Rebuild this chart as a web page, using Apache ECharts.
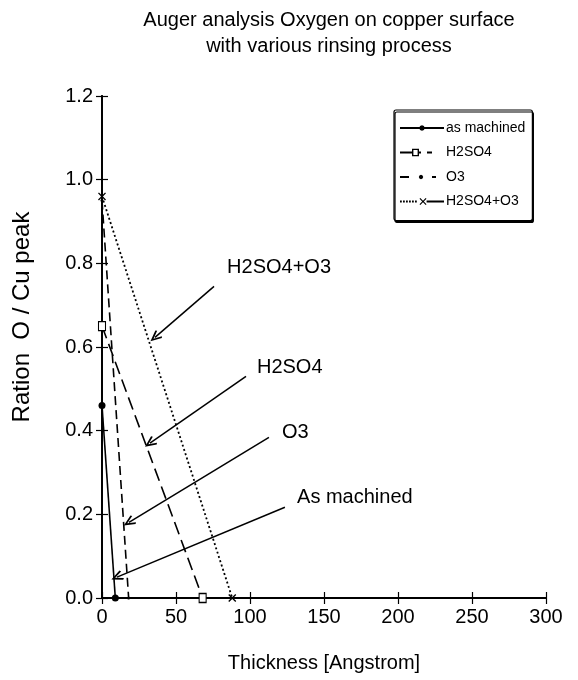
<!DOCTYPE html>
<html>
<head>
<meta charset="utf-8">
<script src="https://cdn.jsdelivr.net/npm/echarts@6/dist/echarts.min.js"></script>
<style>html,body{margin:0;padding:0;background:#fff;}#c{width:578px;height:680px;}</style>
</head>
<body>
<div id="c"></div>
<script>
// ---- data ----
const seriesNames = ['as machined', 'H2SO4', 'O3', 'H2SO4+O3'];
const asMachinedX = [0, 9];
const asMachinedY = [0.46, 0];
const h2so4X = [0, 68];
const h2so4Y = [0.65, 0];
const o3X = [0, 18];
const o3Y = [0.95, 0];
const h2so4o3X = [0, 88];
const h2so4o3Y = [0.96, 0];
const xTicks = [0, 50, 100, 150, 200, 250, 300];
const yTicks = [0.0, 0.2, 0.4, 0.6, 0.8, 1.0, 1.2];
// annotations (data coordinates)
const annotText = ['H2SO4+O3', 'H2SO4', 'O3', 'As machined'];
const annotLabelX = [84.5, 104.7, 121.6, 131.8];
const annotLabelY = [0.79, 0.551, 0.396, 0.241];
const arrowTailX = [75.7, 97.3, 112.8, 123.6];
const arrowTailY = [0.745, 0.53, 0.384, 0.217];
const arrowTipX = [35.8, 32.4, 18.2, 10.1];
const arrowTipY = [0.623, 0.37, 0.181, 0.05];

const zip = (xs, ys) => xs.map((x, i) => [x, ys[i]]);
const FONT = 'Liberation Sans';
const xMarker = 'path://M0,1.2L1.2,0L5,3.8L8.8,0L10,1.2L6.2,5L10,8.8L8.8,10L5,6.2L1.2,10L0,8.8L3.8,5Z';
const chevron = 'path://M5,0L10,9L8.6,10L5,3.4L1.4,10L0,9Z';

// legend icons (MATLAB style: line - marker - line), 44px wide
const seg = (a, b) => `M${a},-1.1H${b}V1.1H${a}Z`;
const pad = 'M43.99,0H44V0.01H43.99Z';
const dot = (cx, r) => `M${cx},${-r}L${cx + r * 0.7},${-r * 0.7}L${cx + r},0L${cx + r * 0.7},${r * 0.7}L${cx},${r}L${cx - r * 0.7},${r * 0.7}L${cx - r},0L${cx - r * 0.7},${-r * 0.7}Z`;
const iconAsMachined = 'path://' + seg(0, 44) + dot(22, 2.8);
const iconH2SO4 = 'path://' + seg(0, 12) + 'M12,-3.8H19V3.8H12Z M13.4,-2.4V2.4H17.6V-2.4Z' + seg(19, 21) + seg(27, 32) + pad;
const iconO3 = 'path://' + seg(0, 9) + dot(21, 2.2) + seg(32, 36) + pad;
let dots = '';
for (let x = 0; x <= 16; x += 3) dots += `M${x},-1h1.8v2h-1.8Z`;
const iconMix = 'path://' + dots +
  'M19.5,-2.66L20.34,-3.5L23,-0.84L25.66,-3.5L26.5,-2.66L23.84,0L26.5,2.66L25.66,3.5L23,0.84L20.34,3.5L19.5,2.66L22.16,0Z' +
  seg(26.6, 44);
const legendIcons = [iconAsMachined, iconH2SO4, iconO3, iconMix];

const chart = echarts.init(document.getElementById('c'));
const axisCommon = {
  axisLine: {show: true, lineStyle: {color: '#000', width: 1.8}},
  axisTick: {show: true, inside: true, length: 6, lineStyle: {color: '#000', width: 1.2}},
  splitLine: {show: false}
};
chart.setOption({
  animation: false,
  backgroundColor: '#fff',
  textStyle: {fontFamily: FONT, color: '#000'},
  title: {
    text: 'Auger analysis Oxygen on copper surface\nwith various rinsing process',
    left: 324, top: 2, textAlign: 'center',
    textStyle: {fontFamily: FONT, fontSize: 20, fontWeight: 'normal', color: '#000', lineHeight: 26}
  },
  grid: {left: 102, right: 32, top: 96, bottom: 82},
  legend: {
    data: seriesNames.map((n, i) => ({name: n, icon: legendIcons[i], itemStyle: {color: '#000', borderWidth: 0}})),
    orient: 'vertical',
    left: 394, top: 110,
    itemWidth: 44, itemHeight: 10, itemGap: 10.5,
    itemGap: 10.5,
    padding: [11, 7, 12, 6],
    backgroundColor: '#fff',
    borderColor: '#000', borderWidth: 1.2, borderRadius: 2,
    shadowColor: '#000', shadowBlur: 0, shadowOffsetX: 1, shadowOffsetY: 2,
    textStyle: {fontFamily: FONT, fontSize: 14, color: '#000', padding: [0, 0, 0, -3]}
  },
  xAxis: [
    Object.assign({type: 'value', position: 'bottom', min: xTicks[0], max: xTicks[xTicks.length - 1], interval: 50,
      name: 'Thickness [Angstrom]', nameLocation: 'middle', nameGap: 55,
      nameTextStyle: {fontFamily: FONT, fontSize: 20, color: '#000'},
      axisLabel: {fontFamily: FONT, fontSize: 20, color: '#000', margin: 9}}, axisCommon),
    Object.assign({type: 'value', position: 'top', min: xTicks[0], max: xTicks[xTicks.length - 1], interval: 50,
      axisLabel: {show: false}}, axisCommon)
  ],
  yAxis: [
    Object.assign({type: 'value', position: 'left', min: yTicks[0], max: yTicks[yTicks.length - 1], interval: 0.2,
      name: 'Ration  O / Cu peak', nameLocation: 'middle', nameGap: 68, nameRotate: 90,
      nameTextStyle: {fontFamily: FONT, fontSize: 24, color: '#000', padding: [0, 0, 0, 60]},
      axisLabel: {fontFamily: FONT, fontSize: 20, color: '#000', margin: 9, formatter: v => v.toFixed(1)}}, axisCommon),
    Object.assign({type: 'value', position: 'right', min: yTicks[0], max: yTicks[yTicks.length - 1], interval: 0.2,
      axisLabel: {show: false}}, axisCommon)
  ],
  series: [
    {name: seriesNames[0], type: 'line', data: zip(asMachinedX, asMachinedY), symbol: 'circle', symbolSize: 7,
      showAllSymbol: true, clip: false,
      lineStyle: {color: '#000', width: 1.6, type: 'solid'}, itemStyle: {color: '#000'}},
    {name: seriesNames[1], type: 'line', data: zip(h2so4X, h2so4Y), symbol: 'rect', symbolSize: [7, 9], clip: false,
      lineStyle: {color: '#000', width: 1.6, type: [13, 6]}, itemStyle: {color: '#fff', borderColor: '#000', borderWidth: 1.2}},
    {name: seriesNames[2], type: 'line', data: zip(o3X, o3Y), symbol: 'circle', symbolSize: 3, clip: false,
      lineStyle: {color: '#000', width: 1.6, type: [9, 5]}, itemStyle: {color: '#000'}},
    {name: seriesNames[3], type: 'line', data: zip(h2so4o3X, h2so4o3Y), symbol: xMarker, symbolSize: 8, clip: false,
      lineStyle: {color: '#000', width: 1.8, type: [2, 2.5]}, itemStyle: {color: '#000'}},
    {name: 'annotations', type: 'scatter', symbolSize: 0, itemStyle: {color: '#000', opacity: 1},
      data: annotText.map((t, i) => ({value: [annotLabelX[i], annotLabelY[i]], name: t})),
      label: {show: true, position: 'right', distance: 0, formatter: p => p.name,
        fontFamily: FONT, fontSize: 20, color: '#000', opacity: 1},
      silent: true,
      markLine: {
        silent: true, animation: false,
        symbol: ['none', chevron], symbolSize: [10, 12],
        lineStyle: {color: '#000', width: 1.5, type: 'solid'},
        label: {show: false},
        data: annotText.map((t, i) => [
          {coord: [arrowTailX[i], arrowTailY[i]]},
          {coord: [arrowTipX[i], arrowTipY[i]]}
        ])
      }
    }
  ]
});
</script>
</body>
</html>
